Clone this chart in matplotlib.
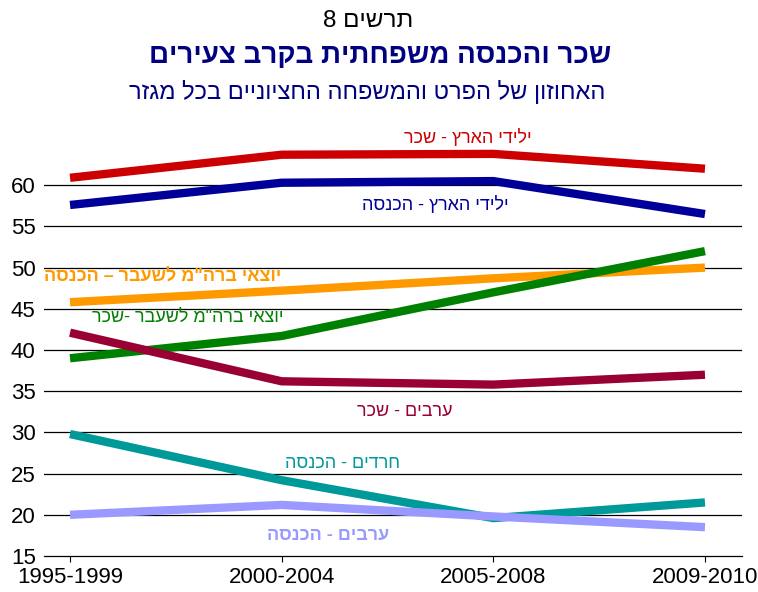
import matplotlib
matplotlib.use("Agg")
import matplotlib.pyplot as plt

plt.rcParams['font.family'] = ['Liberation Sans', 'DejaVu Sans']

periods = ['1995-1999', '2000-2004', '2005-2008', '2009-2010']

native_wage = [60.9, 63.7, 63.8, 62.0]
native_income = [57.6, 60.3, 60.5, 56.5]
fsu_income = [45.8, 47.2, 48.7, 50.0]
fsu_wage = [39.0, 41.7, 47.0, 52.0]
arab_wage = [42.1, 36.2, 35.8, 37.0]
haredi_income = [29.8, 24.2, 19.6, 21.5]
arab_income = [20.0, 21.2, 19.8, 18.5]

yticks = [15, 20, 25, 30, 35, 40, 45, 50, 55, 60]


def heb(s):
    # matplotlib has no bidi: flip hebrew, keep digit runs readable
    out = s[::-1]
    res, run = '', ''
    for ch in out:
        if ch.isdigit():
            run += ch
        else:
            res += run[::-1] + ch
            run = ''
    return res + run[::-1]


series = [
    (native_wage, '#CC0000', 'ילידי הארץ - שכר', 468, 138, 'normal'),
    (native_income, '#000099', 'ילידי הארץ - הכנסה', 435, 205, 'normal'),
    (fsu_income, '#FF9900', 'יוצאי ברה"מ לשעבר – הכנסה', 163, 277, 'bold'),
    (fsu_wage, '#008000', 'יוצאי ברה"מ לשעבר -שכר', 188, 317, 'normal'),
    (arab_wage, '#990033', 'ערבים - שכר', 405, 412, 'normal'),
    (haredi_income, '#009999', 'חרדים - הכנסה', 343, 463, 'normal'),
    (arab_income, '#9999FF', 'ערבים - הכנסה', 328, 535, 'bold'),
]

W, H = 758, 592
fig = plt.figure(figsize=(W / 100, H / 100), dpi=100)
ax = fig.add_axes([44 / W, 1 - 556 / H, (742 - 44) / W, (556 - 144) / H])

x = list(range(len(periods)))
for vals, col, lab, tx, ty, wt in series:
    ax.plot(x, vals, color=col, lw=6, solid_capstyle='butt', zorder=3)
    fig.text(tx / W, 1 - ty / H, heb(lab), color=col, fontsize=13,
             fontweight=wt, ha='center', va='center')

ax.set_xlim(-0.123, 3.175)
ax.set_ylim(15, 65)
ax.set_yticks(yticks)
ax.set_xticks(x)
ax.set_xticklabels(periods, fontsize=16)
ax.tick_params(axis='y', length=0, pad=6, labelsize=16)
ax.tick_params(axis='x', length=4, width=0.8, pad=4)
for t in yticks[1:]:
    ax.axhline(t, color='black', lw=0.9, zorder=1)
for s in ['top', 'left', 'right']:
    ax.spines[s].set_visible(False)
ax.spines['bottom'].set_linewidth(0.9)

fig.text(368 / W, 1 - 21 / H, heb('תרשים 8'), fontsize=17.5, ha='center', va='center')
fig.text(380 / W, 1 - 56 / H, heb('שכר והכנסה משפחתית בקרב צעירים'), fontsize=20,
         fontweight='bold', color='#000080', ha='center', va='center')
fig.text(367 / W, 1 - 92 / H, heb('האחוזון של הפרט והמשפחה החציוניים בכל מגזר'),
         fontsize=17, color='#000080', ha='center', va='center')

fig.savefig('out.png', dpi=100)
